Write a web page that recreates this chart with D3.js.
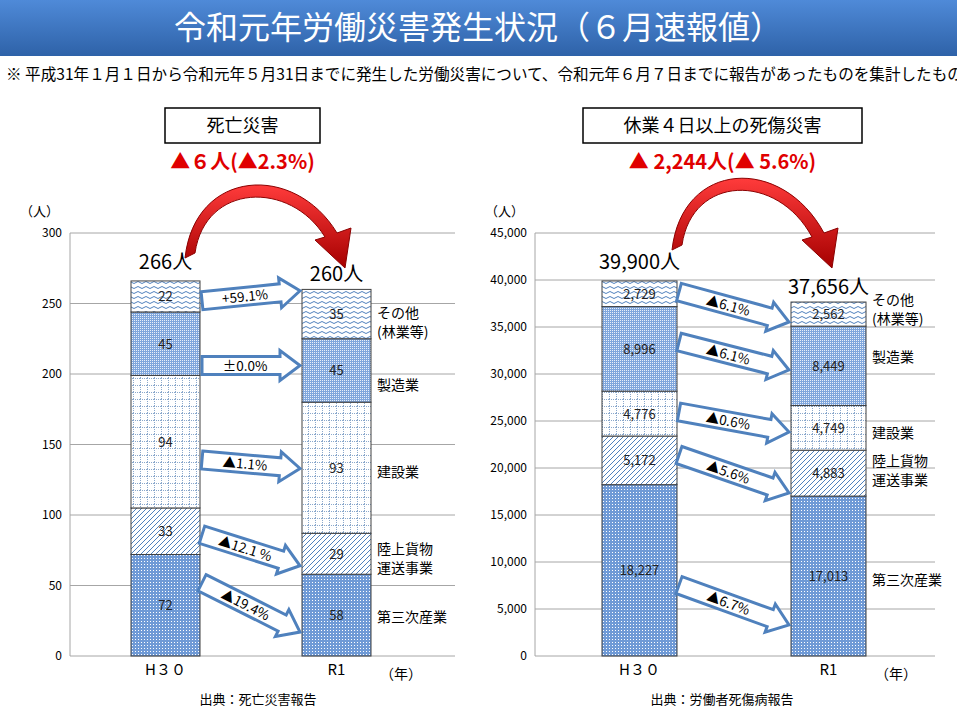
<!DOCTYPE html>
<html><head><meta charset="utf-8">
<script src="https://cdn.jsdelivr.net/npm/d3@7"></script>
<style>body{margin:0;background:#fff;font-family:"Noto Sans CJK JP","Noto Sans",sans-serif}</style>
</head><body><div id="chart"></div>
<script>
// data
var categories = ["第三次産業", "陸上貨物運送事業", "建設業", "製造業", "その他(林業等)"];
var years = ["H３０", "R1"];
var deathH30 = [72, 33, 94, 45, 22];
var deathR1 = [58, 29, 93, 45, 35];
var injuryH30 = [18227, 5172, 4776, 8996, 2729];
var injuryR1 = [17013, 4883, 4749, 8449, 2562];
var deathTotals = ["266人", "260人"];
var injuryTotals = ["39,900人", "37,656人"];
var deathTicks = [0, 50, 100, 150, 200, 250, 300];
var injuryTicks = d3.range(0, 45001, 5000);
var deathChange = ["▲19.4%", "▲12.1 %", "▲1.1%", "±0.0%", "+59.1%"];
var injuryChange = ["▲6.7%", "▲5.6%", "▲0.6%", "▲6.1%", "▲6.1%"];
// arrow anchor values [start, end] in axis units
var deathArrows = [[52, 17], [86, 64], [139, 133], [206, 206], [252, 259]];
var injuryArrows = [[7550, 3300], [21380, 17340], [25960, 23830], [33400, 30430], [38720, 35530]];

var W = 957, H = 716;
var svg = d3.select("#chart").append("svg").attr("width", W).attr("height", H);
var defs = svg.append("defs");

// patterns
function pat(id, w, h, bg, draw) {
  var p = defs.append("pattern").attr("id", id).attr("patternUnits", "userSpaceOnUse")
    .attr("width", w).attr("height", h);
  p.append("rect").attr("width", w).attr("height", h).attr("fill", bg);
  draw(p);
}
pat("p0", 3, 3, "#6f9ad6", p => p.append("rect").attr("width", 1).attr("height", 1).attr("fill", "#fff"));
pat("p1", 5, 5, "#fff", p => p.append("path").attr("d", "M0,5L5,0M-1,1L1,-1M4,6L6,4").attr("stroke", "#4f81bd").attr("stroke-width", 1));
pat("p2", 7, 7, "#fff", p => {
  p.append("path").attr("d", "M0,0.5H7M0.5,0V7").attr("stroke", "#8aa8cc").attr("stroke-width", 1).attr("stroke-dasharray", "1,1");
});
pat("p3", 2, 2, "#7fa6dc", p => {
  p.append("rect").attr("width", 1).attr("height", 1).attr("fill", "#e8eff9");
});
pat("p4", 8, 5, "#fff", p => p.append("path").attr("d", "M0,2.5Q2,0.5 4,2.5T8,2.5").attr("fill", "none").attr("stroke", "#4f81bd").attr("stroke-width", 1));
var grad = defs.append("linearGradient").attr("id", "red").attr("x1", 0).attr("y1", 0).attr("x2", 0).attr("y2", 1);
grad.append("stop").attr("offset", 0).attr("stop-color", "#ff3b3b");
grad.append("stop").attr("offset", 1).attr("stop-color", "#a50000");
var tg = defs.append("linearGradient").attr("id", "tbar").attr("x1", 0).attr("y1", 0).attr("x2", 0).attr("y2", 1);
tg.append("stop").attr("offset", 0).attr("stop-color", "#4f8ad8");
tg.append("stop").attr("offset", 1).attr("stop-color", "#2e62a8");

// title
svg.append("rect").attr("x", 0).attr("y", 0).attr("width", W).attr("height", 56).attr("fill", "url(#tbar)");
svg.append("text").attr("x", 478).attr("y", 39).attr("text-anchor", "middle").attr("fill", "#fff")
  .attr("font-size", 32).text("令和元年労働災害発生状況（６月速報値）");
svg.append("text").attr("x", 6).attr("y", 80).attr("font-size", 15.6).attr("fill", "#000")
  .text("※ 平成31年１月１日から令和元年５月31日までに発生した労働災害について、令和元年６月７日までに報告があったものを集計したもの");

function chart(o) {
  var y = d3.scaleLinear().domain([0, o.max]).range([656, 233]);
  var g = svg.append("g");
  g.selectAll(".grid").data(o.ticks).enter().append("line")
    .attr("x1", o.ax).attr("x2", o.gx).attr("y1", d => y(d)).attr("y2", d => y(d))
    .attr("stroke", "#a6a6a6");
  g.append("line").attr("x1", o.ax).attr("x2", o.ax).attr("y1", 233).attr("y2", 656).attr("stroke", "#a6a6a6");
  g.selectAll(".tk").data(o.ticks).enter().append("text")
    .attr("x", o.ax - 8).attr("y", d => y(d) + 4).attr("text-anchor", "end").attr("font-size", 12)
    .text(d => d3.format(",")(d));
  g.append("text").attr("x", o.ax - 50).attr("y", 216).attr("font-size", 13).text("（人）");
  var xs = [o.b0, o.b1];
  [o.a, o.b].forEach(function (vals, i) {
    var cum = 0;
    vals.forEach(function (v, k) {
      var y0 = y(cum), y1 = y(cum + v);
      cum += v;
      g.append("rect").attr("x", xs[i]).attr("y", y1).attr("width", o.bw).attr("height", y0 - y1)
        .attr("fill", "url(#p" + k + ")").attr("stroke", "#404040").attr("stroke-width", 1);
      g.append("text").attr("x", xs[i] + o.bw / 2).attr("y", (y0 + y1) / 2 + 5).attr("text-anchor", "middle")
        .attr("font-size", 13).attr("fill", "#222").text(d3.format(",")(v));
    });
    g.append("text").attr("x", xs[i] + o.bw / 2).attr("y", y(cum) - (i ? 8 : 12)).attr("text-anchor", "middle")
      .attr("font-size", 20).text(o.totals[i]);
    g.append("text").attr("x", xs[i] + o.bw / 2).attr("y", 675).attr("text-anchor", "middle")
      .attr("font-size", 15).text(years[i]);
  });
  g.append("text").attr("x", o.b1 + o.bw + 30).attr("y", 679).attr("text-anchor", "middle").attr("font-size", 14).text("（年）");
  // arrows
  o.arrows.forEach(function (ar, k) {
    var x1 = o.b0 + o.bw + 2, y1 = y(ar[0]), x2 = o.b1 - 2, y2 = y(ar[1]);
    var L = Math.hypot(x2 - x1, y2 - y1), ang = Math.atan2(y2 - y1, x2 - x1) * 180 / Math.PI;
    var s = 9, h = 15, hl = 20;
    var ag = g.append("g").attr("transform", "translate(" + x1 + "," + y1 + ") rotate(" + ang + ")");
    ag.append("path").attr("d", "M0," + (-s) + "H" + (L - hl) + "V" + (-h) + "L" + L + ",0L" + (L - hl) + "," + h + "V" + s + "H0Z")
      .attr("fill", "#fff").attr("stroke", "#4f81bd").attr("stroke-width", 3).attr("stroke-linejoin", "miter");
    ag.append("text").attr("x", (L - hl) / 2 + 4).attr("y", 5).attr("text-anchor", "middle").attr("font-size", 13.5)
      .text(o.change[k]);
  });
  // category labels
  o.labels.forEach(function (l) {
    l.t.forEach(function (t, j) {
      g.append("text").attr("x", o.b1 + o.bw + 6).attr("y", l.y + j * 19).attr("font-size", 14).text(t);
    });
  });
  // header box
  g.append("rect").attr("x", o.box[0]).attr("y", 108).attr("width", o.box[1]).attr("height", 35)
    .attr("fill", "#fff").attr("stroke", "#000").attr("stroke-width", 1.5);
  g.append("text").attr("x", o.box[0] + o.box[1] / 2).attr("y", 132).attr("text-anchor", "middle")
    .attr("font-size", 18).text(o.head);
  g.append("text").attr("x", o.box[0] + o.box[1] / 2).attr("y", 169).attr("text-anchor", "middle")
    .attr("font-size", 20).attr("font-weight", "bold").attr("fill", "#e00000").text(o.red);
  // red curved arrow
  var c = o.curve;
  g.append("path").attr("d",
    "M" + c[0] + "," + c[1] + " C" + (c[0] + 10) + "," + (c[1] - 90) + " " + (c[2] - 50) + "," + (c[1] - 95) + " " + (c[2] - 8) + "," + (c[3] - 35) +
    " L" + (c[2] + 6) + "," + (c[3] - 40) + " L" + c[2] + "," + c[3] + " L" + (c[2] - 30) + "," + (c[3] - 28) +
    " L" + (c[2] - 20) + "," + (c[3] - 31) + " C" + (c[2] - 55) + "," + (c[1] - 78) + " " + (c[0] + 20) + "," + (c[1] - 75) + " " + (c[0] + 10) + "," + (c[1] - 5) + "Z")
    .attr("fill", "url(#red)").attr("stroke", "#8b0000").attr("stroke-width", 1);
  g.append("text").attr("x", o.src).attr("y", 704).attr("text-anchor", "middle").attr("font-size", 13).text(o.srcText);
}

chart({ max: 300, ticks: deathTicks, ax: 70, gx: 455, b0: 131, b1: 302, bw: 69, a: deathH30, b: deathR1,
  totals: deathTotals, arrows: deathArrows, change: deathChange, head: "死亡災害", red: "▲６人(▲2.3%)",
  box: [165, 155], curve: [185, 258, 345, 268], src: 258, srcText: "出典：死亡災害報告",
  labels: [{ y: 318, t: ["その他", "(林業等)"] }, { y: 390, t: ["製造業"] }, { y: 477, t: ["建設業"] },
    { y: 554, t: ["陸上貨物", "運送事業"] }, { y: 622, t: ["第三次産業"] }] });
chart({ max: 45000, ticks: injuryTicks, ax: 535, gx: 935, b0: 602, b1: 791, bw: 75, a: injuryH30, b: injuryR1,
  totals: injuryTotals, arrows: injuryArrows, change: injuryChange, head: "休業４日以上の死傷災害", red: "▲ 2,244人(▲ 5.6%)",
  box: [583, 279], curve: [672, 250, 832, 268], src: 722, srcText: "出典：労働者死傷病報告",
  labels: [{ y: 305, t: ["その他", "(林業等)"] }, { y: 362, t: ["製造業"] }, { y: 438, t: ["建設業"] },
    { y: 466, t: ["陸上貨物", "運送事業"] }, { y: 585, t: ["第三次産業"] }] });
</script></body></html>
